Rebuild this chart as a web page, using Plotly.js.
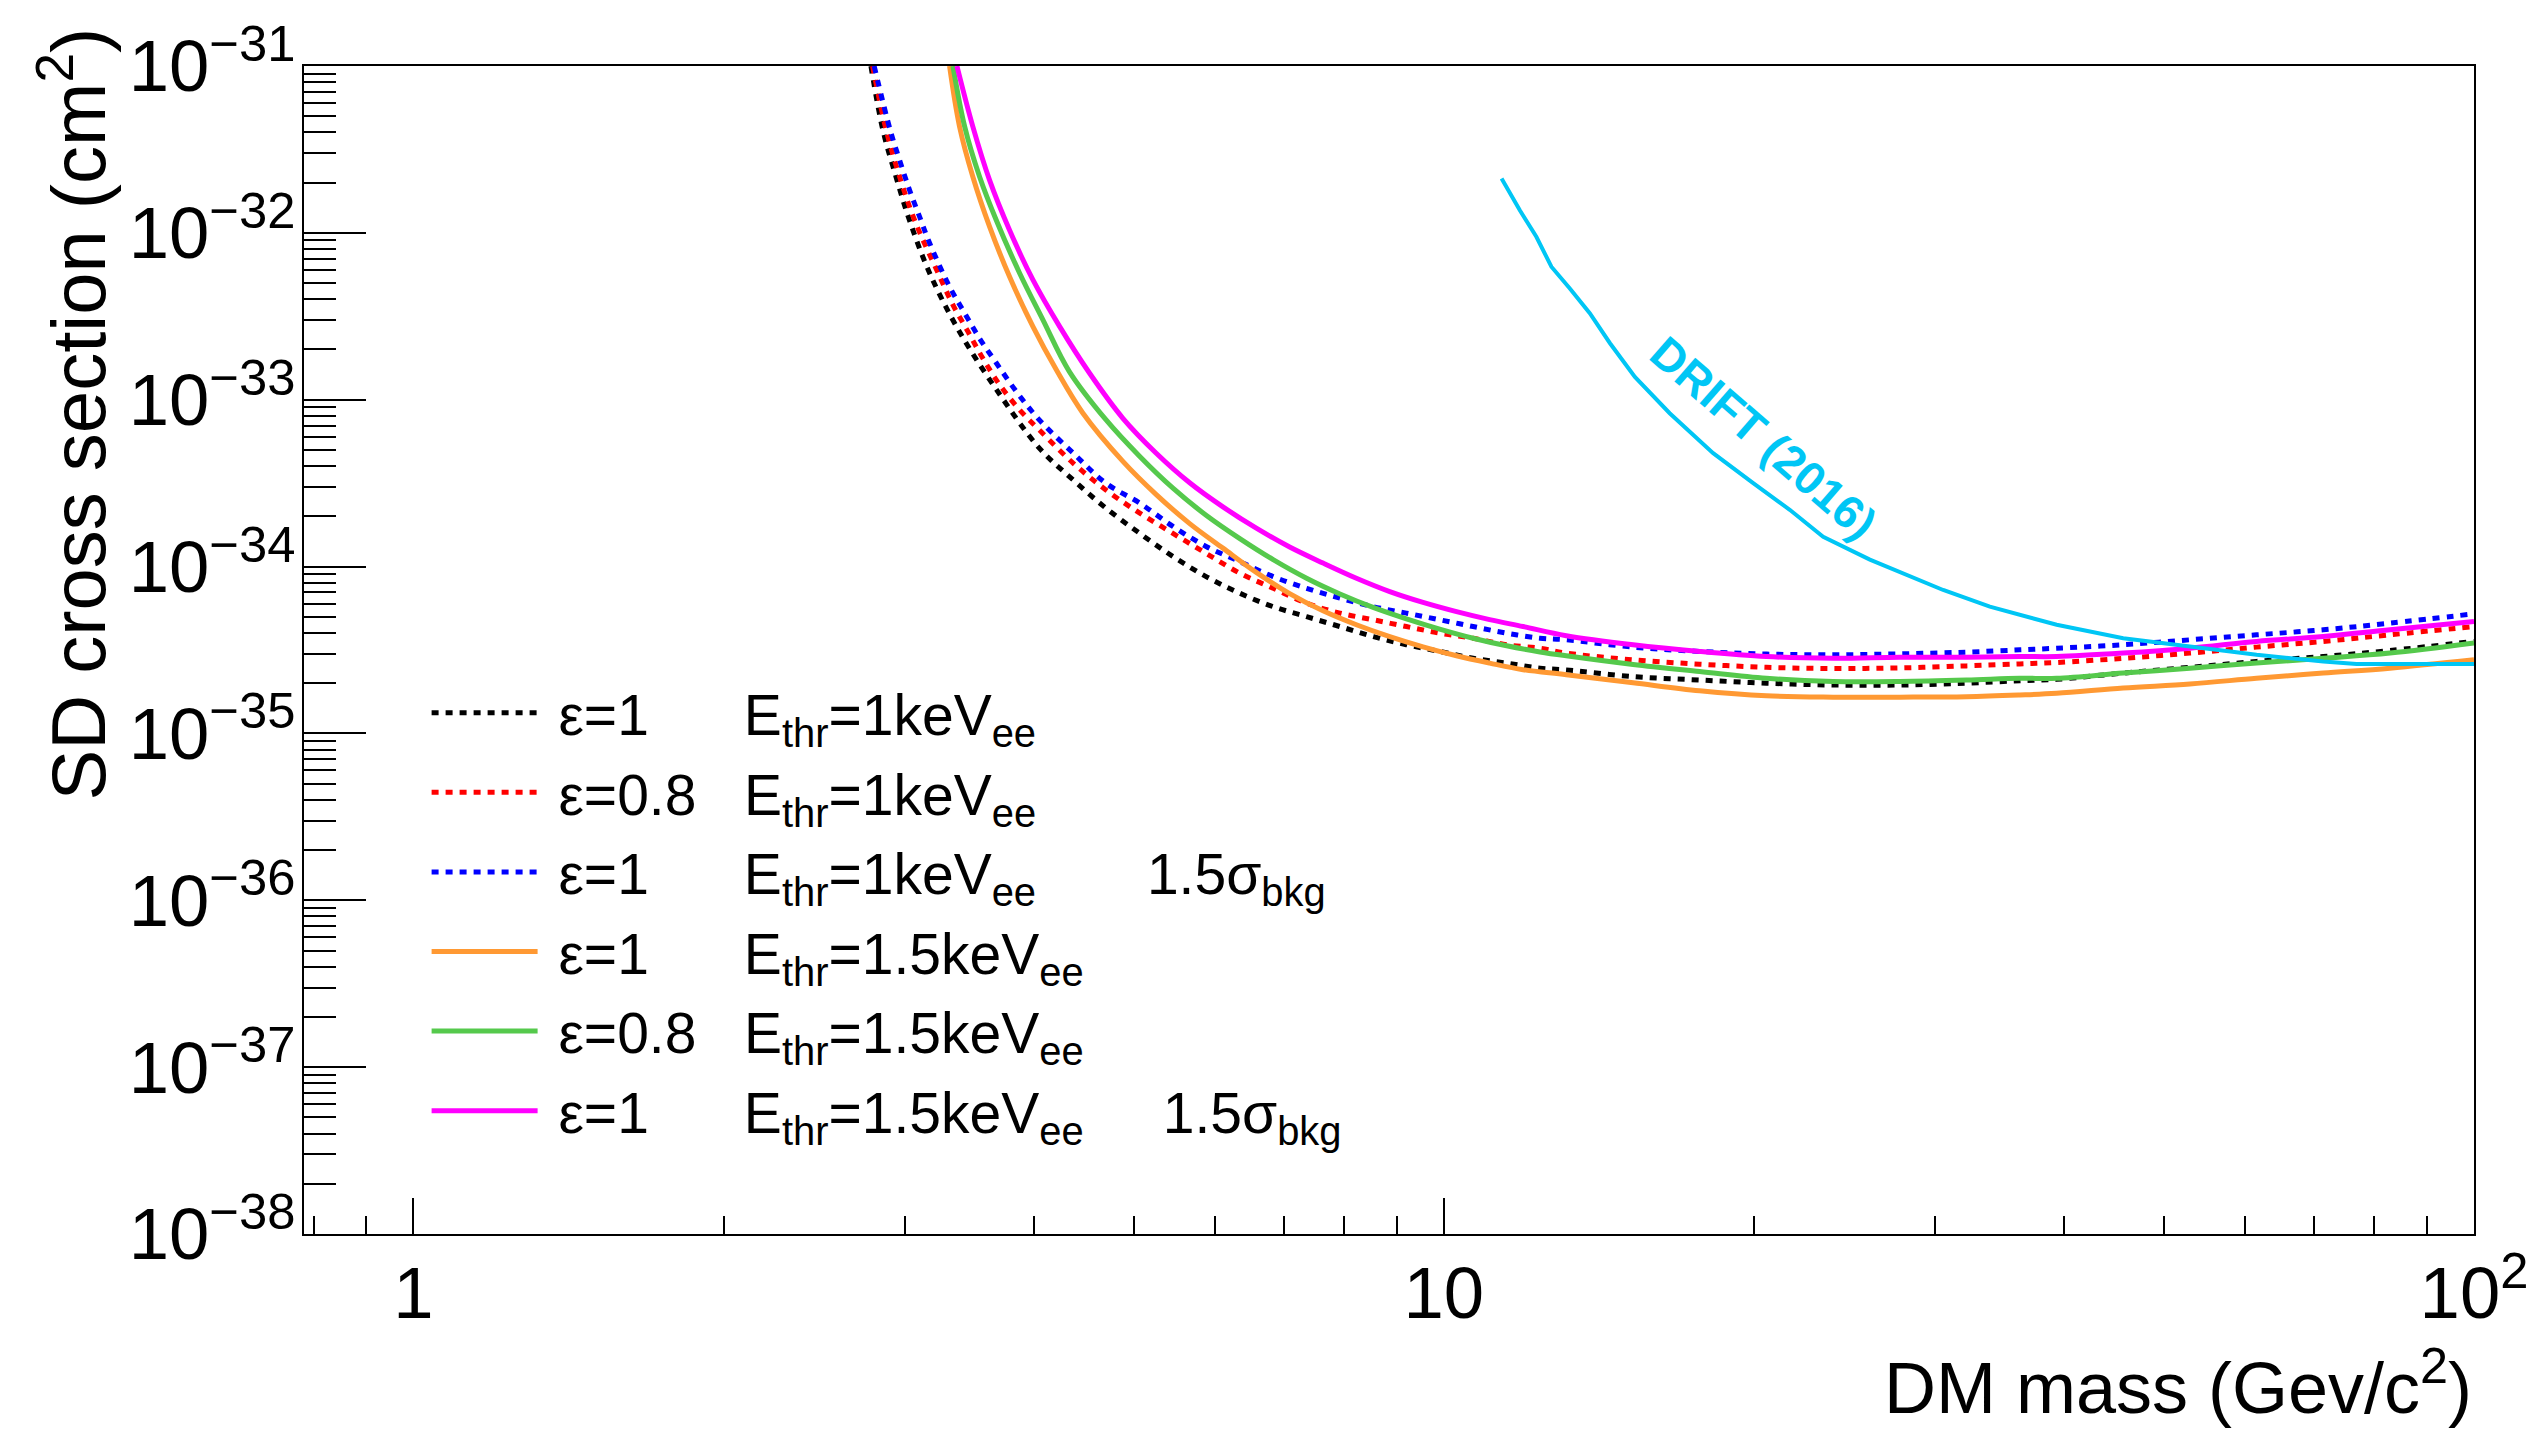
<!DOCTYPE html>
<html><head><meta charset="utf-8">
<script src="https://cdn.plot.ly/plotly-3.0.1.min.js"></script>
<style>html,body{margin:0;padding:0;background:#fff}</style>
</head><body>
<div id="chart" style="width:2539px;height:1440px"></div>
<script>
// ---- data (DM mass in GeV/c^2, SD cross section in cm^2) ----
const massEps1Thr1 = [2.78, 2.855, 2.94, 3.03, 3.17, 3.38, 3.68, 4.05, 4.37, 4.70, 5.07, 5.46, 5.88, 6.34, 6.83, 7.36, 7.93, 8.54, 9.20, 9.91, 10.68, 11.51, 12.40, 13.15, 15.27, 17.72, 20.57, 23.88, 27.71, 32.17, 36.24, 39.35, 45.66, 53.0, 61.5, 71.4, 82.9, 100];
const xsecEps1Thr1 = [1.0e-31, 4.14e-32, 2.17e-32, 1.19e-32, 5.73e-33, 2.62e-33, 1.15e-33, 5.13e-34, 3.30e-34, 2.24e-34, 1.58e-34, 1.15e-34, 8.71e-35, 6.92e-35, 5.75e-35, 5.01e-35, 4.37e-35, 3.81e-35, 3.40e-35, 3.10e-35, 2.82e-35, 2.64e-35, 2.46e-35, 2.40e-35, 2.19e-35, 2.09e-35, 2.00e-35, 1.95e-35, 1.95e-35, 2.00e-35, 2.07e-35, 2.11e-35, 2.30e-35, 2.49e-35, 2.70e-35, 2.89e-35, 3.14e-35, 3.56e-35];

const massEps08Thr1 = [2.79, 2.876, 2.964, 3.065, 3.242, 3.339, 3.453, 3.570, 3.706, 3.876, 4.05, 4.37, 4.70, 5.07, 5.46, 5.88, 6.34, 6.83, 7.36, 7.93, 8.54, 9.20, 9.91, 10.68, 11.51, 12.40, 13.15, 15.27, 17.72, 20.57, 23.88, 27.71, 32.17, 36.24, 39.35, 45.66, 53.0, 61.5, 71.4, 82.9, 100];
const xsecEps08Thr1 = [1.0e-31, 4.14e-32, 2.17e-32, 1.19e-32, 5.47e-33, 3.70e-33, 2.56e-33, 1.77e-33, 1.23e-33, 8.69e-34, 6.59e-34, 4.16e-34, 2.88e-34, 2.09e-34, 1.58e-34, 1.20e-34, 9.12e-35, 7.41e-35, 6.04e-35, 5.26e-35, 4.80e-35, 4.37e-35, 3.99e-35, 3.72e-35, 3.40e-35, 3.24e-35, 3.03e-35, 2.76e-35, 2.60e-35, 2.49e-35, 2.45e-35, 2.47e-35, 2.54e-35, 2.61e-35, 2.66e-35, 2.82e-35, 3.03e-35, 3.29e-35, 3.56e-35, 3.90e-35, 4.37e-35];

const massEps1Thr1Bkg = [2.80, 2.902, 2.963, 3.030, 3.099, 3.170, 3.314, 3.428, 3.544, 3.679, 3.847, 4.05, 4.37, 4.70, 5.07, 5.46, 5.88, 6.34, 6.83, 7.36, 7.93, 8.54, 9.20, 9.91, 10.68, 11.51, 12.40, 13.15, 15.27, 17.72, 20.57, 23.88, 27.71, 32.17, 36.24, 39.35, 45.66, 53.0, 61.5, 71.4, 82.9, 100];
const xsecEps1Thr1Bkg = [1.0e-31, 4.14e-32, 2.74e-32, 1.81e-32, 1.25e-32, 8.67e-33, 4.76e-33, 3.30e-33, 2.33e-33, 1.66e-33, 1.12e-33, 7.57e-34, 4.78e-34, 3.16e-34, 2.40e-34, 1.74e-34, 1.32e-34, 1.07e-34, 8.71e-35, 7.41e-35, 6.47e-35, 5.75e-35, 5.26e-35, 4.80e-35, 4.37e-35, 3.99e-35, 3.72e-35, 3.64e-35, 3.29e-35, 3.10e-35, 2.99e-35, 2.96e-35, 3.00e-35, 3.07e-35, 3.17e-35, 3.24e-35, 3.40e-35, 3.64e-35, 3.90e-35, 4.18e-35, 4.58e-35, 5.21e-35];

const massEps1Thr15 = [3.314, 3.389, 3.491, 3.624, 3.789, 3.993, 4.207, 4.465, 4.882, 5.260, 5.668, 6.105, 6.578, 7.087, 7.635, 8.227, 8.864, 9.548, 10.29, 11.08, 11.94, 13.15, 15.27, 17.72, 20.57, 23.88, 27.71, 32.17, 36.24, 39.35, 45.66, 53.0, 61.5, 71.4, 82.9, 100];
const xsecEps1Thr15 = [1.0e-31, 4.33e-32, 2.17e-32, 1.09e-32, 5.47e-33, 2.74e-33, 1.51e-33, 8.30e-34, 4.27e-34, 2.70e-34, 1.81e-34, 1.29e-34, 9.23e-35, 6.89e-35, 5.43e-35, 4.48e-35, 3.80e-35, 3.30e-35, 2.92e-35, 2.64e-35, 2.41e-35, 2.25e-35, 2.01e-35, 1.80e-35, 1.68e-35, 1.65e-35, 1.65e-35, 1.66e-35, 1.70e-35, 1.74e-35, 1.87e-35, 1.98e-35, 2.14e-35, 2.30e-35, 2.46e-35, 2.76e-35];

const massEps08Thr15 = [3.339, 3.428, 3.544, 3.679, 3.876, 4.083, 4.33, 4.70, 5.07, 5.46, 5.88, 6.34, 6.83, 7.36, 7.93, 8.54, 9.20, 9.91, 10.68, 11.51, 12.40, 13.15, 15.27, 17.72, 20.57, 23.88, 27.71, 32.17, 36.24, 39.35, 45.66, 53.0, 61.5, 71.4, 82.9, 100];
const xsecEps08Thr15 = [1.0e-31, 4.33e-32, 2.17e-32, 1.19e-32, 5.73e-33, 3.01e-33, 1.48e-33, 7.59e-34, 4.57e-34, 2.95e-34, 2.03e-34, 1.47e-34, 1.10e-34, 8.51e-35, 6.85e-35, 5.69e-35, 4.86e-35, 4.22e-35, 3.72e-35, 3.35e-35, 3.08e-35, 2.92e-35, 2.59e-35, 2.35e-35, 2.14e-35, 2.05e-35, 2.05e-35, 2.09e-35, 2.14e-35, 2.14e-35, 2.30e-35, 2.46e-35, 2.64e-35, 2.82e-35, 3.03e-35, 3.48e-35];

const massEps1Thr15Bkg = [3.369, 3.491, 3.624, 3.789, 3.993, 4.239, 4.532, 4.882, 5.260, 5.668, 6.105, 6.578, 7.087, 7.635, 8.227, 8.864, 9.548, 10.29, 11.08, 11.94, 13.15, 15.27, 17.72, 20.57, 23.88, 27.71, 32.17, 36.24, 39.35, 45.66, 53.0, 61.5, 71.4, 82.9, 100];
const xsecEps1Thr15Bkg = [1.0e-31, 4.33e-32, 2.07e-32, 1.04e-32, 5.22e-33, 2.74e-33, 1.44e-33, 7.74e-34, 4.78e-34, 3.18e-34, 2.28e-34, 1.70e-34, 1.31e-34, 1.05e-34, 8.51e-35, 7.08e-35, 6.10e-35, 5.37e-35, 4.81e-35, 4.37e-35, 3.85e-35, 3.40e-35, 3.10e-35, 2.89e-35, 2.82e-35, 2.86e-35, 2.86e-35, 2.89e-35, 2.89e-35, 3.03e-35, 3.24e-35, 3.56e-35, 3.81e-35, 4.18e-35, 4.69e-35];

const massDrift = [11.38, 11.85, 12.30, 12.72, 13.25, 13.86, 14.50, 15.33, 16.57, 18.26, 19.97, 21.67, 23.35, 25.92, 30.53, 33.89, 39.35, 45.66, 53.01, 61.52, 71.41, 76.91, 100];
const xsecDrift = [2.12e-32, 1.37e-32, 9.48e-33, 6.27e-33, 4.66e-33, 3.30e-33, 2.18e-33, 1.37e-33, 8.30e-34, 4.78e-34, 3.16e-34, 2.19e-34, 1.51e-34, 1.10e-34, 7.24e-35, 5.75e-35, 4.48e-35, 3.72e-35, 3.32e-35, 2.96e-35, 2.70e-35, 2.61e-35, 2.61e-35];

// ---- text ----
const NB = '\u00a0';
const effLabels = ['ε=1', 'ε=0.8', 'ε=1', 'ε=1', 'ε=0.8', 'ε=1'];
const thrLabels = ['E<sub>thr</sub>=1keV<sub>ee</sub>', 'E<sub>thr</sub>=1keV<sub>ee</sub>', 'E<sub>thr</sub>=1keV<sub>ee</sub>',
                   'E<sub>thr</sub>=1.5keV<sub>ee</sub>', 'E<sub>thr</sub>=1.5keV<sub>ee</sub>', 'E<sub>thr</sub>=1.5keV<sub>ee</sub>'];
const bkgLabels = ['', '', '1.5σ<sub>bkg</sub>', '', '', '1.5σ<sub>bkg</sub>'];
const driftLabel = 'DRIFT (2016)';
const xTitle = 'DM mass (Gev/c<sup>2</sup>)';
const yTitle = 'SD cross section (cm<sup>2</sup>)';

const FONT = '"Liberation Sans", Arial, Helvetica, sans-serif';

function legendName(i) {
  const gap1 = effLabels[i] === 'ε=0.8' ? 3 : 6;
  const gap2 = i === 2 ? 7 : 5;
  let s = NB + effLabels[i] + NB.repeat(gap1) + thrLabels[i];
  if (bkgLabels[i]) s += NB.repeat(gap2) + bkgLabels[i];
  return s;
}

const series = [
  {x: massEps1Thr1, y: xsecEps1Thr1, color: '#000000', dash: '7px,7px', width: 5},
  {x: massEps08Thr1, y: xsecEps08Thr1, color: '#ff0000', dash: '7px,7px', width: 5},
  {x: massEps1Thr1Bkg, y: xsecEps1Thr1Bkg, color: '#0000ff', dash: '7px,7px', width: 5},
  {x: massEps1Thr15, y: xsecEps1Thr15, color: '#ff9933', dash: 'solid', width: 5},
  {x: massEps08Thr15, y: xsecEps08Thr15, color: '#55c94c', dash: 'solid', width: 5},
  {x: massEps1Thr15Bkg, y: xsecEps1Thr15Bkg, color: '#ff00ff', dash: 'solid', width: 5}
];

const traces = series.map((s, i) => ({
  type: 'scatter', mode: 'lines', x: s.x, y: s.y, name: legendName(i),
  legendgroup: 'g' + i,
  line: {color: s.color, dash: s.dash, width: s.width, shape: 'spline', smoothing: 1.0},
  hoverinfo: 'skip'
}));
traces.push({
  type: 'scatter', mode: 'lines', x: massDrift, y: xsecDrift, showlegend: false,
  line: {color: '#00c6f5', width: 4}, hoverinfo: 'skip'
});

const axisCommon = {
  type: 'log', tickmode: 'linear', tick0: 0, dtick: 1,
  exponentformat: 'power', showexponent: 'all',
  ticks: 'inside', tickwidth: 2, tickcolor: '#000',
  showline: true, linecolor: '#000', linewidth: 2, mirror: true,
  showgrid: false, zeroline: false,
  tickfont: {family: FONT, size: 58, color: '#000'}
};

const layout = {
  width: 2539, height: 1440,
  margin: {l: 304, r: 65, t: 66, b: 206},
  paper_bgcolor: '#fff', plot_bgcolor: '#fff',
  font: {family: FONT, color: '#000'},
  showlegend: true,
  xaxis: Object.assign({}, axisCommon, {
    range: [Math.log10(0.783), 2], ticklen: 36, ticklabelstandoff: -2,
    minor: {ticks: 'inside', ticklen: 18, tickwidth: 2, tickcolor: '#000', dtick: 'D1', showgrid: false}
  }),
  yaxis: Object.assign({}, axisCommon, {
    range: [-38, -31], ticklen: 62, ticklabelstandoff: -5,
    minor: {ticks: 'inside', ticklen: 32, tickwidth: 2, tickcolor: '#000', dtick: 'D1', showgrid: false}
  }),
  legend: {
    x: 0.0565, y: 0.4836, xanchor: 'left', yanchor: 'top',
    bgcolor: 'rgba(0,0,0,0)', borderwidth: 0,
    font: {family: FONT, size: 57, color: '#000'},
    itemwidth: 106, tracegroupgap: 2.5, traceorder: 'grouped'
  },
  annotations: [
    {text: xTitle, xref: 'paper', yref: 'paper', x: 1, y: -0.1271, xanchor: 'right', yanchor: 'middle',
     showarrow: false, font: {family: FONT, size: 72, color: '#000'}},
    {text: yTitle, xref: 'paper', yref: 'paper', x: -0.1065, y: 1.035, xanchor: 'center', yanchor: 'top',
     textangle: -90, showarrow: false, font: {family: FONT, size: 76, color: '#000'}},
    {text: '<b>' + driftLabel + '</b>', xref: 'x', yref: 'y', x: 1.3107, y: -33.229,
     xanchor: 'center', yanchor: 'middle', textangle: 41, showarrow: false,
     font: {family: FONT, size: 46, color: '#00c6f5'}}
  ]
};

Plotly.newPlot('chart', traces, layout, {staticPlot: true, displayModeBar: false});
</script>
</body></html>
